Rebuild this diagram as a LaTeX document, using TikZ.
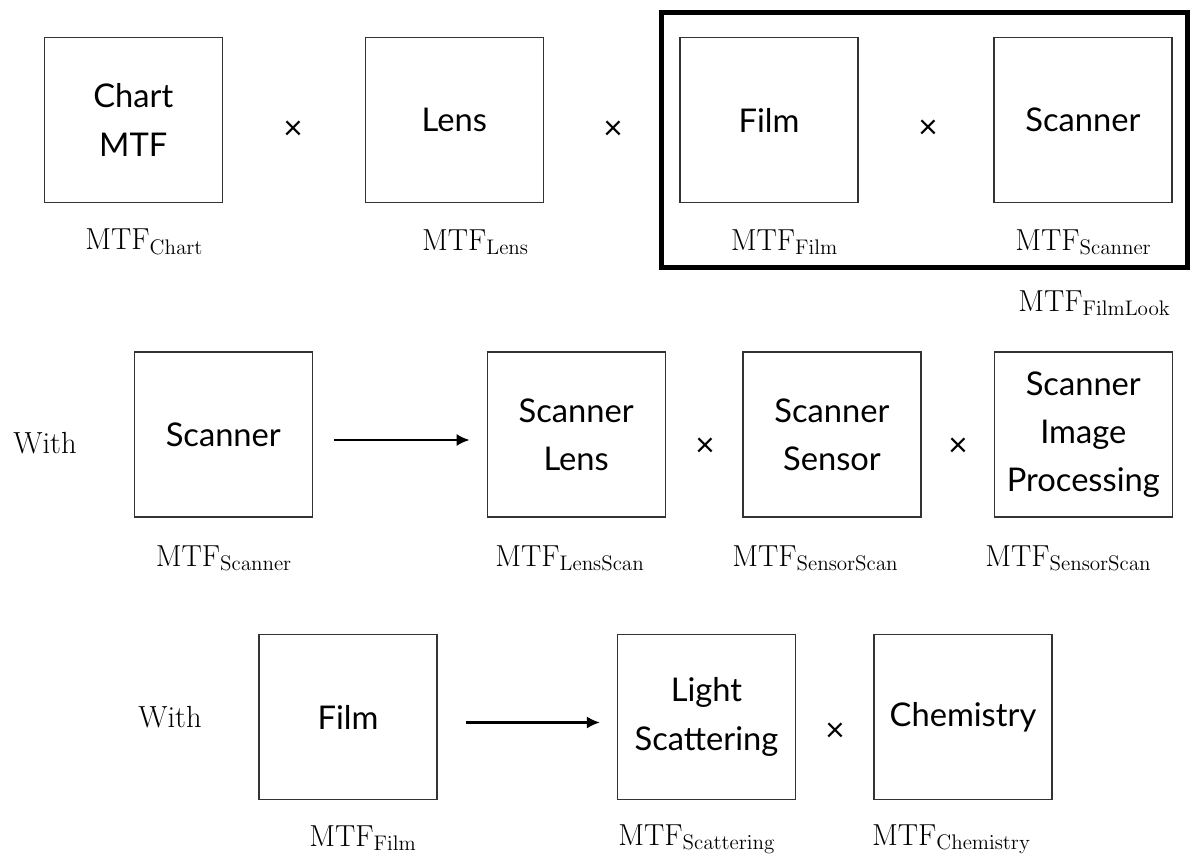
\documentclass[tikz,border=0pt]{standalone}
\usepackage[no-math]{fontspec}
\newfontfamily\boxfont{Lato}
\usetikzlibrary{arrows.meta}

\begin{document}
\begin{tikzpicture}[x=0.02cm,y=-0.02cm,
    block/.style={draw=black!80,line width=0.7pt,minimum width=3.56cm,minimum height=3.3cm,
      inner sep=0pt,align=center,font=\boxfont\fontsize{18.6}{27.5}\selectfont},
    times/.style={inner sep=0pt,font=\boxfont\fontsize{19}{22}\selectfont},
    mtf/.style={anchor=base west,inner sep=0pt,font=\fontsize{17.4}{21}\selectfont},
    flow/.style={-{Latex[length=0.26cm,width=0.24cm]},line width=1.2pt}]
  \useasboundingbox (0,0) rectangle (1190,855);

  % first row
  \node[block] (chart) at (133.3,120) {Chart\\MTF};
  \node[block] (lens) at (454.3,120) {Lens};
  \node[block] (film) at (769,120) {Film};
  \node[block] (scanner) at (1083,120) {Scanner};
  \node[times] (x1) at (293,130) {×};
  \node[times] (x2) at (613,130) {×};
  \node[times] (x3) at (928,129) {×};
  \node[mtf] (mchart) at (85,249.5) {$\mathrm{MTF}_{\mathrm{Chart}}$};
  \node[mtf] (mlens) at (421.7,250) {$\mathrm{MTF}_{\mathrm{Lens}}$};
  \node[mtf] (mfilm) at (730.5,250) {$\mathrm{MTF}_{\mathrm{Film}}$};
  \node[mtf] (mscanner) at (1015,250) {$\mathrm{MTF}_{\mathrm{Scanner}}$};
  \draw[line width=0.1cm] (661.5,12.5) rectangle (1187.5,267);
  \node[mtf] (mfilmlook) at (1018,311) {$\mathrm{MTF}_{\mathrm{FilmLook}}$};

  % scanner row
  \node[mtf] (with1) at (13,453) {With};
  \node[block] (scan) at (223.3,434.5) {Scanner};
  \node[block] (scanlens) at (576.2,434.5) {Scanner\\Lens};
  \node[block] (scansensor) at (832,434.5) {Scanner\\Sensor};
  \node[block] (scanproc) at (1083.3,434.5) {Scanner\\Image\\Processing};
  \node[times] (x4) at (705,447) {×};
  \node[times] (x5) at (958,447) {×};
  \draw[flow,shorten <=0.42cm,shorten >=0.34cm]
    ([yshift=-0.11cm]scan.east) -- ([yshift=-0.11cm]scanlens.west);
  \node[mtf] (mscan) at (155.5,566) {$\mathrm{MTF}_{\mathrm{Scanner}}$};
  \node[mtf] (mlensscan) at (495,566) {$\mathrm{MTF}_{\mathrm{LensScan}}$};
  \node[mtf] (msensorscan) at (732,566) {$\mathrm{MTF}_{\mathrm{SensorScan}}$};
  \node[mtf] (mprocscan) at (985,566) {$\mathrm{MTF}_{\mathrm{SensorScan}}$};

  % film row
  \node[mtf] (with2) at (138,727) {With};
  \node[block] (filmb) at (348,717) {Film};
  \node[block] (light) at (706.5,717) {Light\\Scattering};
  \node[block] (chem) at (963,717) {Chemistry};
  \node[times] (x6) at (835,732) {×};
  \draw[flow,shorten <=0.56cm,shorten >=0.34cm]
    ([yshift=-0.11cm]filmb.east) -- ([yshift=-0.11cm]light.west);
  \node[mtf] (mfilmb) at (309,846) {$\mathrm{MTF}_{\mathrm{Film}}$};
  \node[mtf] (mscatter) at (618,845) {$\mathrm{MTF}_{\mathrm{Scattering}}$};
  \node[mtf] (mchem) at (871.7,845) {$\mathrm{MTF}_{\mathrm{Chemistry}}$};
\end{tikzpicture}
\end{document}
